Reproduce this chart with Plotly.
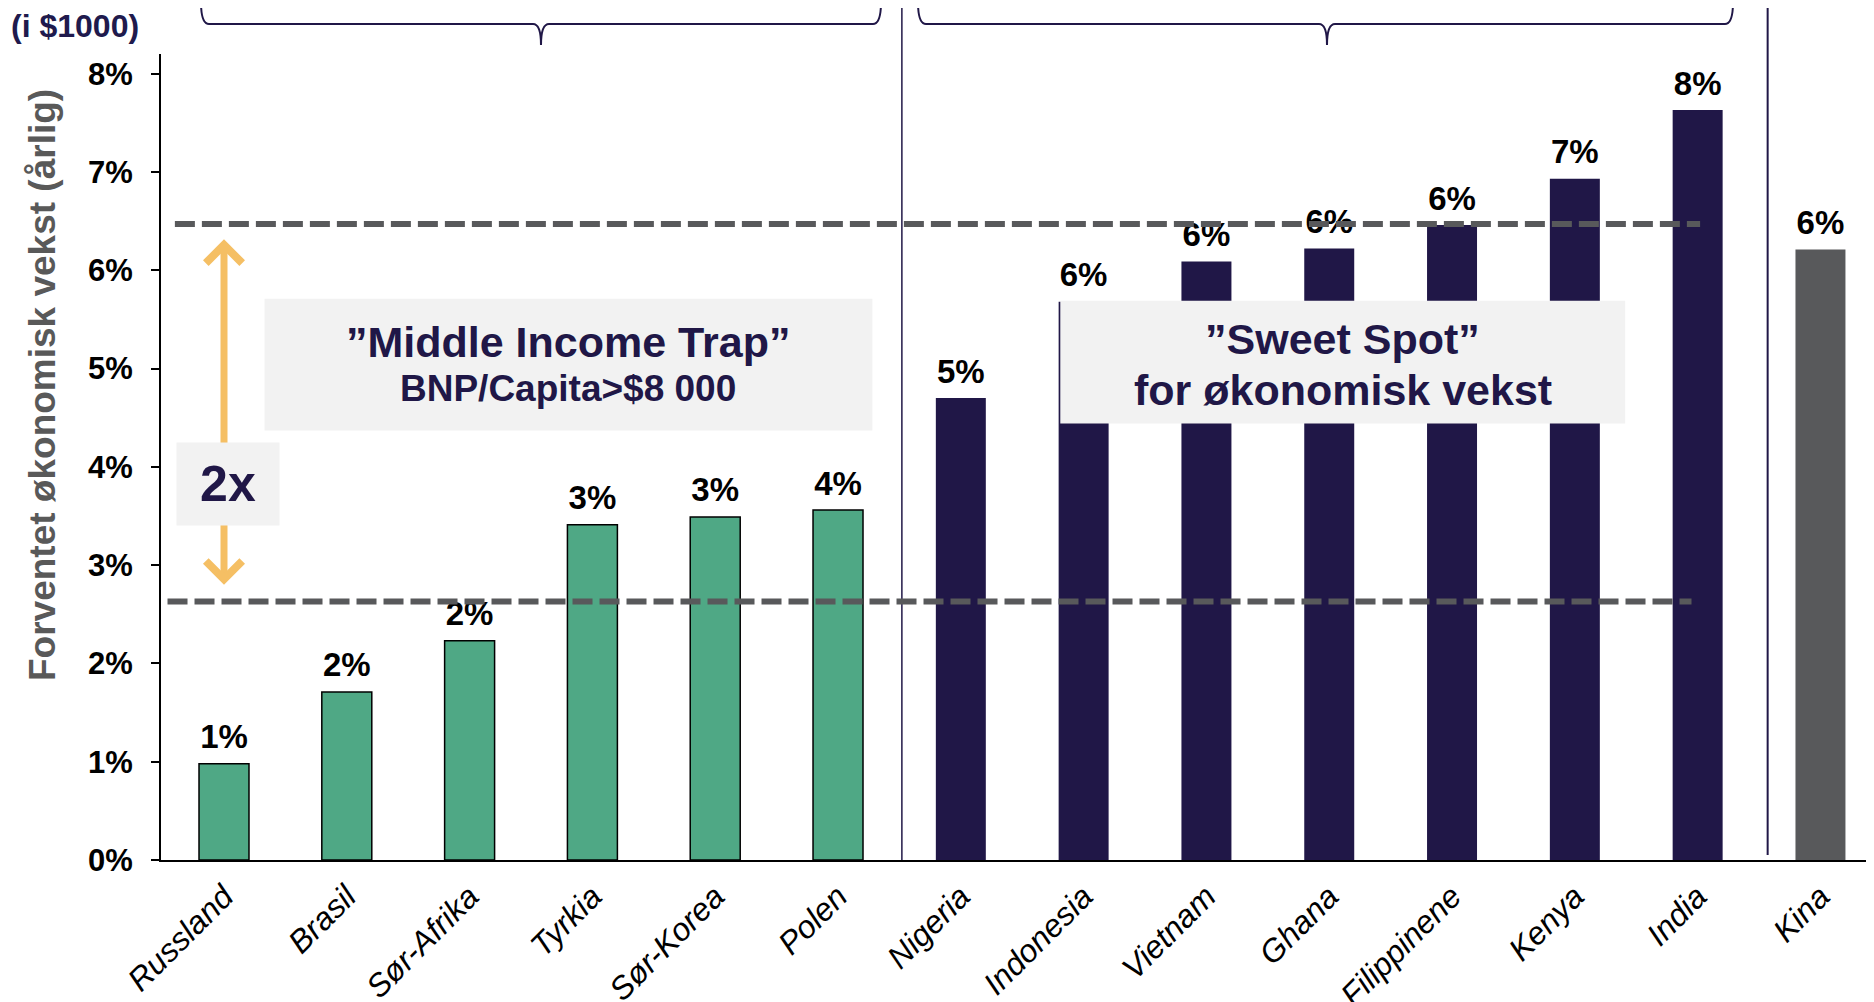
import plotly.graph_objects as go

# ---------------- data ----------------
countries = ["Russland", "Brasil", "Sør-Afrika", "Tyrkia", "Sør-Korea", "Polen",
             "Nigeria", "Indonesia", "Vietnam", "Ghana", "Filippinene", "Kenya",
             "India", "Kina"]
growth = [0.98, 1.71, 2.23, 3.41, 3.49, 3.56, 4.70, 5.68, 6.09, 6.22, 6.46, 6.93, 7.63, 6.21]
value_labels = ["1%", "2%", "2%", "3%", "3%", "4%", "5%", "6%", "6%", "6%", "6%", "7%", "8%", "6%"]
groups = ["mid"] * 6 + ["sweet"] * 7 + ["china"]

y_ticks = [0, 1, 2, 3, 4, 5, 6, 7, 8]
y_tick_labels = ["0%", "1%", "2%", "3%", "4%", "5%", "6%", "7%", "8%"]

upper_level = 6.47
lower_level = 2.63
arrow_low = 2.80
arrow_high = 6.33

# ---------------- style ----------------
GREEN = "#4fa885"
NAVY = "#201747"
GRAY = "#58595b"
ORANGE = "#f5bf64"
BOXGRAY = "#f2f2f2"
FONT = "Liberation Sans, Arial, sans-serif"

color_map = {"mid": GREEN, "sweet": NAVY, "china": GRAY}
line_map = {"mid": 1.5, "sweet": 0, "china": 0}

OFF = 8  # page body margin
PAGE_W, PAGE_H = 1874, 1002
W, H = PAGE_W - OFF, PAGE_H - OFF
L, R, T, B = 153, 0, 46, 142
plot_w = W - L - R
plot_h = H - T - B


def X(p):
    # page pixel -> paper x
    return (p - OFF - L) / plot_w


def Y(p):
    # page pixel -> paper y
    return (OFF + T + plot_h - p) / plot_h


fig = go.Figure()
fig.add_trace(go.Bar(
    x=countries,
    y=growth,
    width=0.407,
    marker=dict(color=[color_map[g] for g in groups],
                line=dict(color="black", width=[line_map[g] for g in groups])),
    showlegend=False,
    hoverinfo="skip",
))
# value labels above bars
fig.add_trace(go.Scatter(
    x=countries,
    y=growth,
    mode="markers+text",
    marker=dict(size=10, opacity=0),
    text=value_labels,
    textposition="top center",
    cliponaxis=False,
    textfont=dict(family=FONT, size=33, color="black", weight="bold"),
    showlegend=False,
    hoverinfo="skip",
))

shapes = []
# top light band
shapes.append(dict(type="rect", xref="paper", yref="paper",
                   x0=X(186), x1=1.0, y0=Y(6), y1=Y(0),
                   fillcolor=BOXGRAY, line=dict(width=0), layer="above"))


def brace(x0, x1, tip, top=2, hy=24, bot=45, r=8):
    return (f"M {X(x0)},{Y(top)} Q {X(x0)},{Y(hy)} {X(x0 + r)},{Y(hy)} "
            f"L {X(tip - r)},{Y(hy)} Q {X(tip)},{Y(hy)} {X(tip)},{Y(bot)} "
            f"Q {X(tip)},{Y(hy)} {X(tip + r)},{Y(hy)} "
            f"L {X(x1 - r)},{Y(hy)} Q {X(x1)},{Y(hy)} {X(x1)},{Y(top)}")


for bx0, bx1, btip in [(201, 881, 541), (918, 1733, 1327)]:
    shapes.append(dict(type="path", xref="paper", yref="paper",
                       path=brace(bx0, bx1, btip),
                       line=dict(color=NAVY, width=2), layer="above"))

# vertical separators
shapes.append(dict(type="line", xref="x", yref="paper", x0=5.52, x1=5.52,
                   y0=0, y1=Y(0), line=dict(color=NAVY, width=1.5), layer="above"))
shapes.append(dict(type="line", xref="x", yref="paper", x0=12.57, x1=12.57,
                   y0=Y(855), y1=Y(0), line=dict(color=NAVY, width=2), layer="above"))

# annotation boxes
shapes.append(dict(type="rect", xref="x", yref="y", x0=0.33, x1=5.28, y0=4.37, y1=5.71,
                   fillcolor=BOXGRAY, line=dict(width=0), layer="above"))
shapes.append(dict(type="rect", xref="x", yref="y", x0=6.81, x1=11.41, y0=4.44, y1=5.69,
                   fillcolor=BOXGRAY, line=dict(width=0), layer="above"))

# dashed reference lines
shapes.append(dict(type="line", xref="x", yref="y", x0=-0.40, x1=12.02,
                   y0=upper_level, y1=upper_level,
                   line=dict(color=GRAY, width=6, dash="20px,7px"), layer="above"))
shapes.append(dict(type="line", xref="x", yref="y", x0=-0.46, x1=11.95,
                   y0=lower_level, y1=lower_level,
                   line=dict(color=GRAY, width=6, dash="20px,7px"), layer="above"))

annotations = []
# double arrow
annotations.append(dict(x=0, y=arrow_low, ax=0, ay=arrow_high, xref="x", yref="y",
                        axref="x", ayref="y", text="", showarrow=True,
                        arrowhead=4, startarrowhead=4, arrowside="end+start",
                        arrowsize=1.0, startarrowsize=1.0,
                        arrowwidth=7, arrowcolor=ORANGE))
# 2x box
annotations.append(dict(x=0.03, y=3.83, xref="x", yref="y", text="<b>2x</b>",
                        showarrow=False, bgcolor=BOXGRAY, width=100, height=80,
                        font=dict(family=FONT, size=50, color=NAVY)))
# Middle income trap text
annotations.append(dict(x=2.8, y=5.27, xref="x", yref="y",
                        text="<b>\u201dMiddle Income Trap\u201d</b>", showarrow=False,
                        font=dict(family=FONT, size=43, color=NAVY)))
annotations.append(dict(x=2.8, y=4.80, xref="x", yref="y",
                        text="<b>BNP/Capita>$8 000</b>", showarrow=False,
                        font=dict(family=FONT, size=37, color=NAVY)))
# Sweet spot text
annotations.append(dict(x=9.11, y=5.30, xref="x", yref="y",
                        text="<b>\u201dSweet Spot\u201d</b>", showarrow=False,
                        font=dict(family=FONT, size=43, color=NAVY)))
annotations.append(dict(x=9.11, y=4.78, xref="x", yref="y",
                        text="<b>for økonomisk vekst</b>", showarrow=False,
                        font=dict(family=FONT, size=43, color=NAVY)))
# y axis title
annotations.append(dict(x=X(42), y=Y(385), xref="paper", yref="paper",
                        text="<b>Forventet økonomisk vekst (årlig)</b>", textangle=-90,
                        showarrow=False, xanchor="center", yanchor="middle",
                        font=dict(family=FONT, size=37, color="#595959")))
# header unit
annotations.append(dict(x=X(9), y=Y(26), xref="paper", yref="paper",
                        text="<b>(i $1000)</b>", showarrow=False,
                        xanchor="left", yanchor="middle",
                        font=dict(family=FONT, size=32, color="#201a4d")))

fig.update_layout(
    width=W, height=H,
    margin=dict(l=L, r=R, t=T, b=B, pad=0, autoexpand=False),
    paper_bgcolor="white", plot_bgcolor="white",
    shapes=shapes, annotations=annotations,
    font=dict(family=FONT, color="black"),
    xaxis=dict(type="category", categoryorder="array", categoryarray=countries,
               range=[-0.513, 13.436], showline=True, linecolor="black", linewidth=2,
               ticks="", tickangle=-45, showgrid=False, zeroline=False,
               ticklabelstandoff=3, automargin=False,
               tickfont=dict(family=FONT, size=32, color="black", style="italic")),
    yaxis=dict(range=[0, 8.2], tickvals=y_ticks, ticktext=y_tick_labels,
               showline=True, linecolor="black", linewidth=2,
               ticks="outside", ticklen=8, tickwidth=2, tickcolor="black",
               showgrid=False, zeroline=False, ticklabelstandoff=12, automargin=False,
               tickfont=dict(family=FONT, size=31, color="black", weight="bold")),
)

fig.write_html("out.html")
